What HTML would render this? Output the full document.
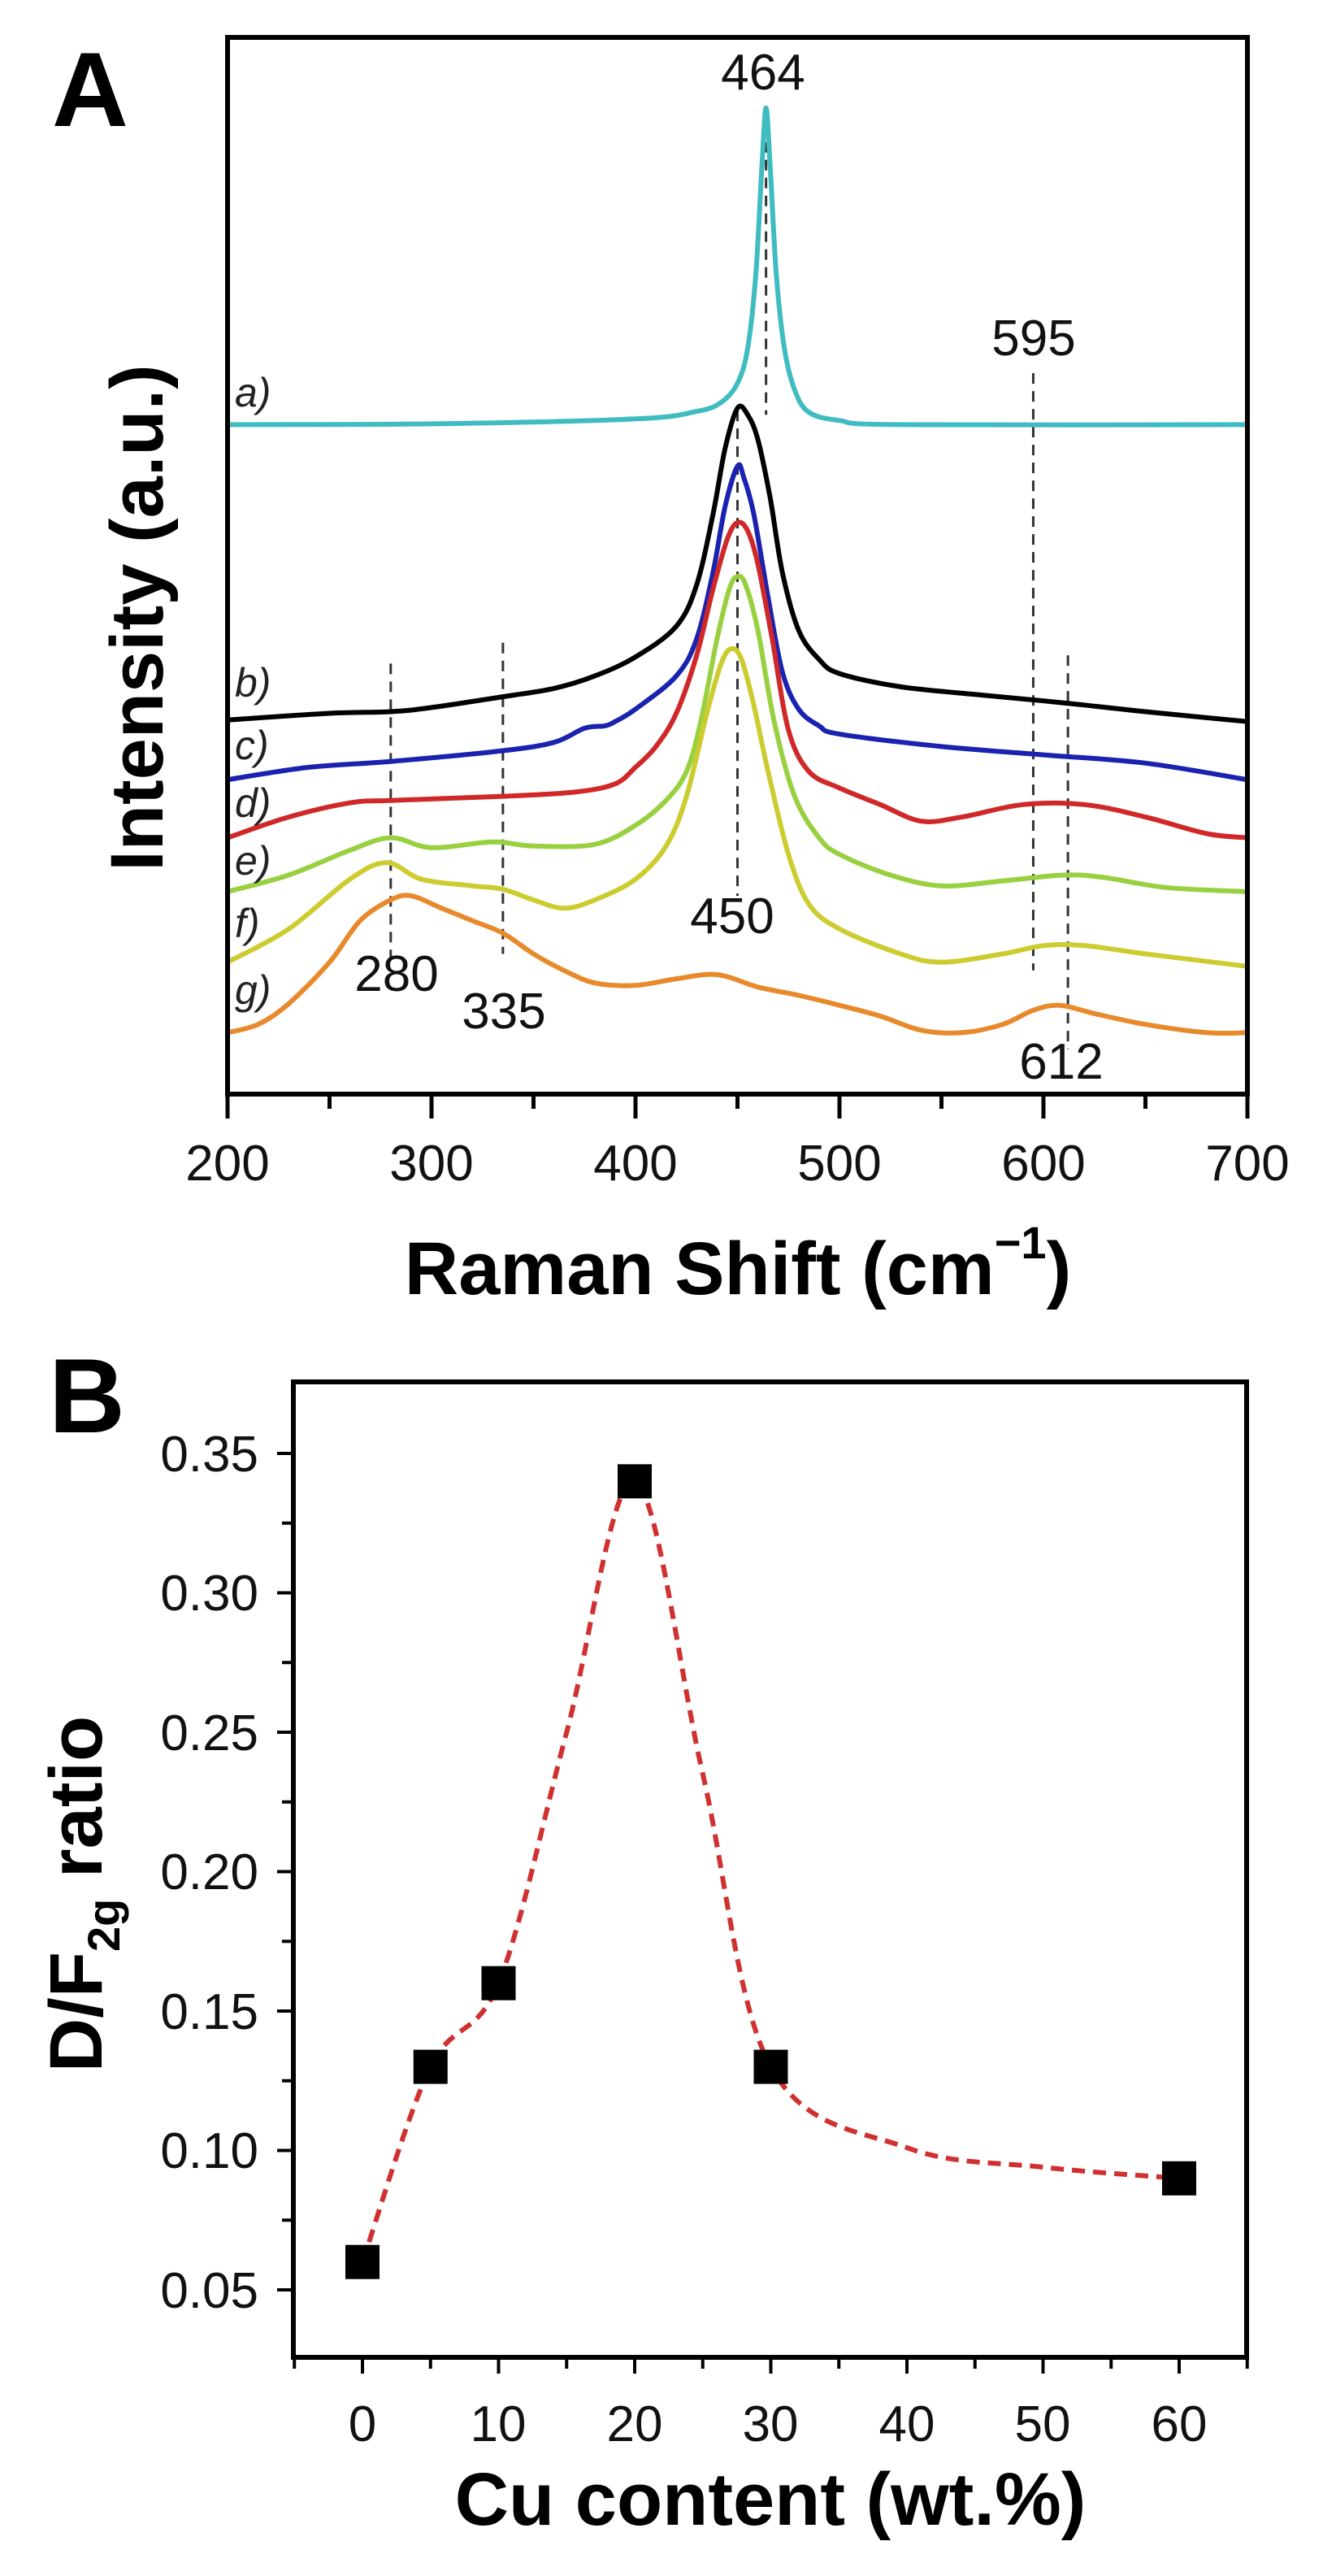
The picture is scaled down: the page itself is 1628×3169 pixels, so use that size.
<!DOCTYPE html>
<html><head><meta charset="utf-8"><style>
html,body{margin:0;padding:0;background:#fff;}
svg text{font-family:"Liberation Sans",sans-serif;}
</style></head><body>
<svg id="s" width="1628" height="3164" viewBox="0 0 1628 3164" xmlns="http://www.w3.org/2000/svg">
<rect width="1628" height="3164" fill="#fff"/>
<g id="A"></g>
<g id="B"></g>
<!-- Panel A text -->
<text x="64" y="155" font-size="130" font-weight="bold">A</text>
<g font-size="62" text-anchor="middle" fill="#111">
<text x="280" y="1452">200</text><text x="531" y="1452">300</text><text x="782" y="1452">400</text>
<text x="1033" y="1452">500</text><text x="1284" y="1452">600</text><text x="1535" y="1452">700</text>
<text x="939" y="110">464</text><text x="1272" y="437">595</text><text x="901" y="1148">450</text>
<text x="488" y="1219">280</text><text x="620" y="1265">335</text><text x="1306" y="1327">612</text>
</g>
<g font-size="50" font-style="italic" fill="#222">
<text x="289" y="500">a)</text><text x="289" y="857">b)</text><text x="289" y="934">c)</text>
<text x="289" y="1005">d)</text><text x="289" y="1076">e)</text><text x="289" y="1153">f)</text><text x="289" y="1235">g)</text>
</g>
<text x="908" y="1592" font-size="92" font-weight="bold" text-anchor="middle">Raman Shift (cm<tspan font-size="56" dy="-44">−1</tspan><tspan dy="44">)</tspan></text>
<text transform="translate(200,760) rotate(-90)" font-size="92" font-weight="bold" text-anchor="middle">Intensity (a.u.)</text>
<!-- Panel B text -->
<text x="60" y="1762" font-size="130" font-weight="bold">B</text>
<g font-size="62" text-anchor="end" fill="#111">
<text x="318" y="1810">0.35</text><text x="318" y="1981">0.30</text><text x="318" y="2153">0.25</text>
<text x="318" y="2324">0.20</text><text x="318" y="2496">0.15</text><text x="318" y="2667">0.10</text><text x="318" y="2839">0.05</text>
</g>
<g font-size="62" text-anchor="middle" fill="#111">
<text x="446" y="3003">0</text><text x="613" y="3003">10</text><text x="781" y="3003">20</text><text x="948" y="3003">30</text>
<text x="1116" y="3003">40</text><text x="1283" y="3003">50</text><text x="1451" y="3003">60</text>
</g>
<text x="948" y="3106" font-size="92" font-weight="bold" text-anchor="middle">Cu content (wt.%)</text>
<text transform="translate(125,2330) rotate(-90)" font-size="92" font-weight="bold" text-anchor="middle">D/F<tspan font-size="56" dy="22">2g</tspan><tspan dy="-22"> ratio</tspan></text>
</svg>
<script>
var NS="http://www.w3.org/2000/svg";
function el(p,t,a){var e=document.createElementNS(NS,t);for(var k in a)e.setAttribute(k,a[k]);p.appendChild(e);return e;}
function cr(pts){var d="M"+pts[0][0].toFixed(1)+","+pts[0][1].toFixed(1);
for(var i=0;i<pts.length-1;i++){var p0=pts[i>0?i-1:0],p1=pts[i],p2=pts[i+1],p3=pts[i+2<pts.length?i+2:i+1];
var c1x=p1[0]+(p2[0]-p0[0])/6,c1y=p1[1]+(p2[1]-p0[1])/6,c2x=p2[0]-(p3[0]-p1[0])/6,c2y=p2[1]-(p3[1]-p1[1])/6;
d+=" C"+c1x.toFixed(1)+","+c1y.toFixed(1)+" "+c2x.toFixed(1)+","+c2y.toFixed(1)+" "+p2[0].toFixed(1)+","+p2[1].toFixed(1);}return d;}
var A=document.getElementById("A");
function X(v){return 280+(v-200)*2.51;}
function Y(z){return z*1.0204;}
function curve(arr,col){var pts=[];for(var i=0;i<arr.length;i+=2)pts.push([X(arr[i]),Y(arr[i+1])]);
el(A,"path",{d:cr(pts),fill:"none",stroke:col,"stroke-width":6,"stroke-linejoin":"round"});}
function dl(v,z1,z2){el(A,"line",{x1:X(v),x2:X(v),y1:Y(z1),y2:Y(z2),stroke:"#333","stroke-width":3,"stroke-dasharray":"13 9"});}
dl(464,128,500);dl(595,450,1170);dl(450,495,1080);dl(280,800,1160);dl(335,775,1150);dl(612,790,1265);
curve([200,512,300,511,400,505,430,496,442,485,450,462,455,420,459,330,462,200,464,130,466,200,469,330,473,420,478,470,485,497,500,507,530,512,700,512],"#3fbcc0");
curve([200,868,250,860,280,858,300,853,335,840,360,830,380,815,400,792,420,755,430,705,438,620,444,540,450,492,455,500,460,530,466,600,472,690,480,760,490,795,500,812,530,828,570,838,600,845,620,850,650,858,700,870],"#000");
curve([200,940,240,925,280,918,335,905,360,895,375,878,385,875,390,870,400,855,420,815,430,770,438,690,444,610,450,562,453,575,458,620,465,720,472,810,480,855,490,875,500,885,550,900,600,910,650,920,700,940],"#1a22b0");
curve([200,1010,230,985,260,968,280,965,335,960,370,955,390,945,400,925,410,900,420,860,430,790,438,710,445,650,450,630,455,640,460,680,467,770,475,880,485,930,500,950,520,970,540,990,560,985,590,970,620,970,650,985,680,1005,700,1010],"#d02828");
curve([200,1075,230,1055,260,1025,280,1010,300,1022,330,1015,350,1020,380,1018,400,995,415,965,425,930,432,870,440,770,446,710,450,695,454,705,460,760,468,870,478,960,490,1010,500,1030,525,1055,550,1068,580,1062,610,1055,630,1058,660,1070,700,1075],"#98d040");
curve([200,1160,230,1120,260,1060,278,1040,295,1060,320,1068,335,1072,350,1085,365,1095,380,1085,400,1060,415,1020,425,960,435,860,442,800,447,782,452,795,458,850,465,930,475,1030,485,1090,500,1120,530,1150,550,1160,580,1150,600,1140,620,1140,650,1150,700,1165],"#cccc30");
curve([200,1245,215,1235,230,1210,250,1160,265,1110,280,1085,290,1080,305,1095,320,1110,335,1125,350,1150,365,1170,380,1185,400,1188,420,1180,440,1175,460,1190,480,1200,500,1212,520,1225,540,1242,560,1245,580,1235,595,1218,608,1212,625,1222,650,1235,680,1245,700,1245],"#e88a2c");
el(A,"rect",{x:280,y:46,width:1255,height:1300,fill:"none",stroke:"#000","stroke-width":6});
for(var v=200;v<=700;v+=50){var maj=(v%100==0);el(A,"line",{x1:X(v),x2:X(v),y1:1346,y2:1346+(maj?30:18),stroke:"#000","stroke-width":5});}
var B=document.getElementById("B");
function BX(c){return 446+c*16.75;}
function BY(r){return 2817-(r-0.05)*3430;}
var bp=[[0,.06],[5,.13],[10,.16],[15,.25],[20,.34],[25,.235],[30,.13],[40,.101],[50,.094],[60,.09]].map(function(p){return [BX(p[0]),BY(p[1])];});
el(B,"path",{d:cr(bp),fill:"none",stroke:"#d03030","stroke-width":6,"stroke-dasharray":"16 10"});
[[0,.06],[5,.13],[10,.16],[20,.34],[30,.13],[60,.09]].forEach(function(p){el(B,"rect",{x:BX(p[0])-21,y:BY(p[1])-21,width:42,height:42,fill:"#000"});});
el(B,"rect",{x:361,y:1700,width:1173,height:1200,fill:"none",stroke:"#000","stroke-width":6});
for(var c=-5;c<=65;c+=5){el(B,"line",{x1:BX(c),x2:BX(c),y1:2900,y2:2900+(c%10==0?20:14),stroke:"#000","stroke-width":4});}
for(var k=0;k<=13;k++){var r=0.025+k*0.025;var y=BY(r);if(y<1702||y>2898)continue;el(B,"line",{x1:361,x2:361-(k%2==1?20:14),y1:y,y2:y,stroke:"#000","stroke-width":4});}
</script>
</body></html>
